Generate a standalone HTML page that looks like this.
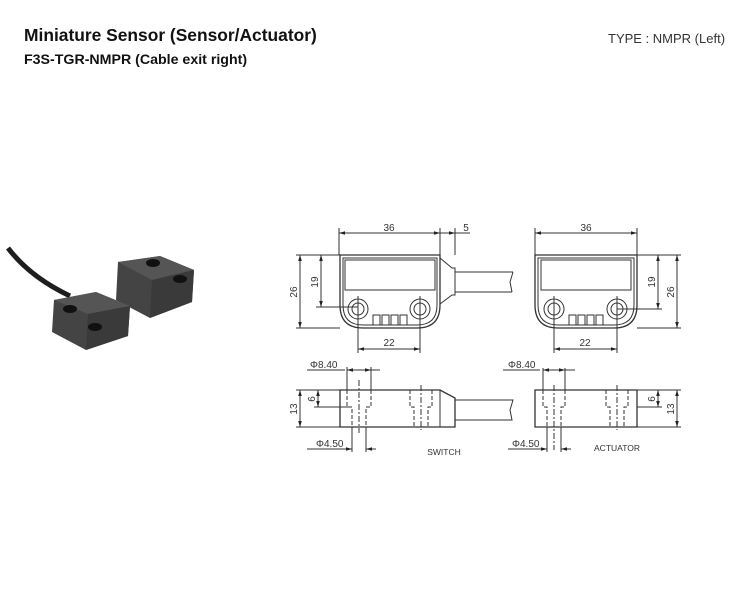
<!DOCTYPE html>
<html><head><meta charset="utf-8"><style>
html,body{margin:0;padding:0;background:#fff;}
svg{display:block;}
text{font-family:"Liberation Sans",Arial,sans-serif;}
</style></head><body>
<svg width="753" height="592" viewBox="0 0 753 592" xmlns="http://www.w3.org/2000/svg">
<defs>
<marker id="a" viewBox="0 0 10 10" refX="10" refY="5" markerWidth="6" markerHeight="6" orient="auto-start-reverse"><path d="M0,2 L10,5 L0,8 z" fill="#222"/></marker>
</defs>
<text x="24" y="41" font-size="17.4" font-weight="bold" fill="#111">Miniature Sensor (Sensor/Actuator)</text>
<text x="24" y="64" font-size="14.2" font-weight="bold" fill="#111">F3S-TGR-NMPR (Cable exit right)</text>
<text x="608" y="43" font-size="13" fill="#333">TYPE : NMPR (Left)</text>

<!-- photo -->
<g>
<path d="M8,248 Q30,277 70,296" stroke="#1e1e1e" stroke-width="5" fill="none"/>
<path d="M118,262 L160,256 L194,270 L192,302 L150,318 L116,300 Z" fill="#444"/>
<path d="M118,262 L160,256 L194,270 L152,280 Z" fill="#555"/>
<path d="M152,280 L194,270 L192,302 L150,318 Z" fill="#3a3a3a"/>
<ellipse cx="153" cy="263" rx="7" ry="4" fill="#111"/>
<ellipse cx="180" cy="279" rx="7" ry="4" fill="#111"/>
<path d="M54,300 L96,292 L130,306 L128,336 L86,350 L52,332 Z" fill="#444"/>
<path d="M54,300 L96,292 L130,306 L88,314 Z" fill="#555"/>
<path d="M88,314 L130,306 L128,336 L86,350 Z" fill="#3a3a3a"/>
<ellipse cx="70" cy="309" rx="7" ry="4" fill="#111"/>
<ellipse cx="95" cy="327" rx="7" ry="4" fill="#111"/>
</g>

<g stroke="#333" stroke-width="1" fill="none">
<!-- SWITCH top -->
<path d="M340,255 L440,255 L440,305 Q440,328 417,328 L363,328 Q340,328 340,305 Z" stroke-width="1.3"/>
<path d="M343,258 L437,258 L437,305 Q437,325 417,325 L363,325 Q343,325 343,305 Z"/>
<rect x="345" y="260" width="90" height="30"/>
<circle cx="358" cy="309" r="10"/><circle cx="358" cy="309" r="6"/>
<circle cx="420" cy="309" r="10"/><circle cx="420" cy="309" r="6"/>
<path d="M373,325 v-10 h7 v10 M382,325 v-10 h7 v10 M391,325 v-10 h7 v10 M400,325 v-10 h7 v10"/>
<path d="M440,258 L452,268 L455,268 L455,295 L452,295 L440,304"/>
<path d="M455,272 L513,272 M455,292 L512,292 M513,272 L510,282 L512,292"/>
<!-- dims -->
<path d="M339,255 V228 M440,255 V228 M455,255 V228"/>
<line x1="339" y1="233" x2="440" y2="233" marker-start="url(#a)" marker-end="url(#a)"/>
<line x1="440" y1="233" x2="470" y2="233"/>
<line x1="448" y1="233" x2="455" y2="233" marker-end="url(#a)"/>
<path d="M296,255 H340 M296,328 H340 M316,307 H358"/>
<line x1="300" y1="255" x2="300" y2="328" marker-start="url(#a)" marker-end="url(#a)"/>
<line x1="321" y1="255" x2="321" y2="307" marker-start="url(#a)" marker-end="url(#a)"/>
<path d="M358,296 V353 M420,296 V353"/>
<line x1="358" y1="349" x2="420" y2="349" marker-start="url(#a)" marker-end="url(#a)"/>

<!-- SWITCH side -->
<path d="M340,390 L440,390 L455,398 L455,427 L340,427 Z" stroke-width="1.3"/>
<line x1="440" y1="390" x2="440" y2="427"/>
<path d="M455,400 L513,400 L510,410 L512,420 L455,420"/>
<path d="M347,390 V407 H352 V427 M371,390 V407 H366 V427 M410,390 V407 H414 V427 M432,390 V407 H428 V427" stroke-dasharray="4,2"/>
<path d="M359,380 V433 M421,385 V430" stroke-dasharray="6,2,2,2"/>
<path d="M307,370 H345 M347,367 V390 M371,367 V390"/>
<line x1="347" y1="370" x2="371" y2="370" marker-start="url(#a)" marker-end="url(#a)"/>
<line x1="371" y1="370" x2="380" y2="370"/>
<path d="M307,449 H345 M352,427 V452 M366,427 V452"/>
<line x1="345" y1="449" x2="352" y2="449" marker-end="url(#a)"/>
<line x1="376" y1="449" x2="366" y2="449" marker-end="url(#a)"/>
<path d="M296,390 H340 M296,427 H340 M314,407 H348"/>
<line x1="300" y1="390" x2="300" y2="427" marker-start="url(#a)" marker-end="url(#a)"/>
<line x1="318" y1="390" x2="318" y2="407" marker-start="url(#a)" marker-end="url(#a)"/>

<!-- ACTUATOR top -->
<path d="M535,255 L637,255 L637,305 Q637,328 614,328 L558,328 Q535,328 535,305 Z" stroke-width="1.3"/>
<path d="M538,258 L634,258 L634,305 Q634,325 614,325 L558,325 Q538,325 538,305 Z"/>
<rect x="541" y="260" width="90" height="30"/>
<circle cx="554" cy="309" r="10"/><circle cx="554" cy="309" r="6"/>
<circle cx="617" cy="309" r="10"/><circle cx="617" cy="309" r="6"/>
<path d="M569,325 v-10 h7 v10 M578,325 v-10 h7 v10 M587,325 v-10 h7 v10 M596,325 v-10 h7 v10"/>
<path d="M535,255 V228 M637,255 V228"/>
<line x1="535" y1="233" x2="637" y2="233" marker-start="url(#a)" marker-end="url(#a)"/>
<path d="M637,255 H681 M637,328 H681 M617,309 H662"/>
<line x1="677" y1="255" x2="677" y2="328" marker-start="url(#a)" marker-end="url(#a)"/>
<line x1="658" y1="255" x2="658" y2="309" marker-start="url(#a)" marker-end="url(#a)"/>
<path d="M554,296 V353 M617,296 V353"/>
<line x1="554" y1="349" x2="617" y2="349" marker-start="url(#a)" marker-end="url(#a)"/>

<!-- ACTUATOR side -->
<path d="M535,390 L637,390 L637,427 L535,427 Z" stroke-width="1.3"/>
<path d="M543,390 V407 H547 V427 M565,390 V407 H561 V427 M606,390 V407 H610 V427 M628,390 V407 H624 V427" stroke-dasharray="4,2"/>
<path d="M554,385 V450 M617,385 V430" stroke-dasharray="6,2,2,2"/>
<path d="M503,370 H540 M543,368 V390 M565,368 V390"/>
<line x1="543" y1="370" x2="565" y2="370" marker-start="url(#a)" marker-end="url(#a)"/>
<line x1="565" y1="370" x2="575" y2="370"/>
<path d="M508,449 H540 M547,427 V452 M561,427 V452"/>
<line x1="540" y1="449" x2="547" y2="449" marker-end="url(#a)"/>
<line x1="571" y1="449" x2="561" y2="449" marker-end="url(#a)"/>
<path d="M637,390 H681 M637,407 H662 M637,427 H681"/>
<line x1="677" y1="390" x2="677" y2="427" marker-start="url(#a)" marker-end="url(#a)"/>
<line x1="658" y1="390" x2="658" y2="407" marker-start="url(#a)" marker-end="url(#a)"/>
</g>

<g font-size="10" fill="#333">
<text x="389" y="231" text-anchor="middle">36</text>
<text x="466" y="231" text-anchor="middle">5</text>
<text x="389" y="346" text-anchor="middle">22</text>
<text transform="translate(297,292) rotate(-90)" text-anchor="middle">26</text>
<text transform="translate(318,282) rotate(-90)" text-anchor="middle">19</text>
<text x="310" y="368">Φ8.40</text>
<text x="316" y="447">Φ4.50</text>
<text transform="translate(297,409) rotate(-90)" text-anchor="middle">13</text>
<text transform="translate(315,399) rotate(-90)" text-anchor="middle">6</text>
<text x="444" y="455" text-anchor="middle" font-size="8.5">SWITCH</text>
<text x="586" y="231" text-anchor="middle">36</text>
<text x="585" y="346" text-anchor="middle">22</text>
<text transform="translate(674,292) rotate(-90)" text-anchor="middle">26</text>
<text transform="translate(655,282) rotate(-90)" text-anchor="middle">19</text>
<text x="508" y="368">Φ8.40</text>
<text x="512" y="447">Φ4.50</text>
<text transform="translate(674,409) rotate(-90)" text-anchor="middle">13</text>
<text transform="translate(655,399) rotate(-90)" text-anchor="middle">6</text>
<text x="617" y="451" text-anchor="middle" font-size="8.5">ACTUATOR</text>
</g>
</svg>
</body></html>
